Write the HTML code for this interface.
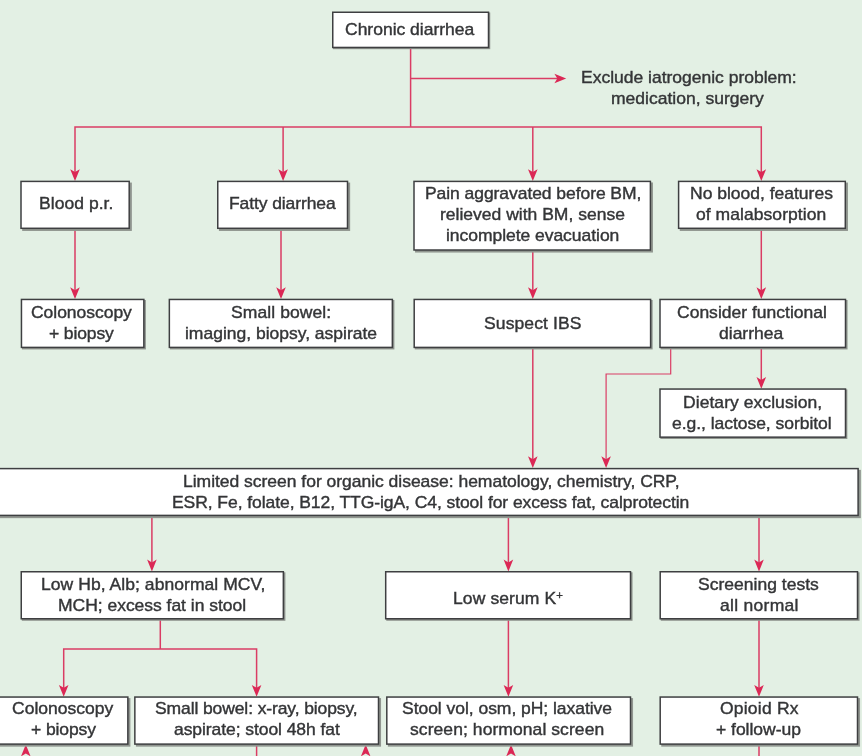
<!DOCTYPE html><html><head><meta charset="utf-8"><style>
html,body{margin:0;padding:0}
body{width:862px;height:756px;overflow:hidden;position:relative;background:#e3f0e4;font-family:"Liberation Sans",sans-serif;}
.t{position:absolute;color:#343537;font-size:17px;line-height:21px;white-space:nowrap;will-change:transform;transform:scaleX(1.03);transform-origin:0 0;-webkit-text-stroke:0.4px #343537;}
sup{font-size:11px;line-height:0;vertical-align:5px}
svg{position:absolute;left:0;top:0}
#w{position:absolute;left:0;top:0;width:862px;height:756px;filter:blur(0.35px)}
</style></head><body><div id="w">
<svg width="862" height="756" viewBox="0 0 862 756"><polyline points="410.6,48 410.6,126.9" fill="none" stroke="#da3c64" stroke-width="1.5"/><polyline points="410.6,78.5 558,78.5" fill="none" stroke="#da3c64" stroke-width="1.5"/><path d="M566.2 78.5 L554.4000000000001 73.7 L557.3000000000001 78.5 L554.4000000000001 83.3 Z" fill="#db2855"/><polyline points="75.0,173.0 75.0,126.9 761.3,126.9 761.3,173.0" fill="none" stroke="#da3c64" stroke-width="1.5"/><polyline points="283.1,126.9 283.1,173.0" fill="none" stroke="#da3c64" stroke-width="1.5"/><polyline points="532.8,126.9 532.8,173.0" fill="none" stroke="#da3c64" stroke-width="1.5"/><path d="M75.0 181.0 L70.2 169.2 L75.0 172.1 L79.8 169.2 Z" fill="#db2855"/><path d="M283.1 181.0 L278.3 169.2 L283.1 172.1 L287.90000000000003 169.2 Z" fill="#db2855"/><path d="M532.8 181.0 L528.0 169.2 L532.8 172.1 L537.5999999999999 169.2 Z" fill="#db2855"/><path d="M761.3 181.0 L756.5 169.2 L761.3 172.1 L766.0999999999999 169.2 Z" fill="#db2855"/><polyline points="75.0,229 75.0,290.7" fill="none" stroke="#da3c64" stroke-width="1.5"/><path d="M75.0 299.1 L70.2 287.3 L75.0 290.2 L79.8 287.3 Z" fill="#db2855"/><polyline points="281.0,229 281.0,290.7" fill="none" stroke="#da3c64" stroke-width="1.5"/><path d="M281.0 299.1 L276.2 287.3 L281.0 290.2 L285.8 287.3 Z" fill="#db2855"/><polyline points="532.8,251 532.8,290.7" fill="none" stroke="#da3c64" stroke-width="1.5"/><path d="M532.8 299.1 L528.0 287.3 L532.8 290.2 L537.5999999999999 287.3 Z" fill="#db2855"/><polyline points="761.3,229 761.3,290.7" fill="none" stroke="#da3c64" stroke-width="1.5"/><path d="M761.3 299.1 L756.5 287.3 L761.3 290.2 L766.0999999999999 287.3 Z" fill="#db2855"/><polyline points="532.8,348 532.8,459.7" fill="none" stroke="#da3c64" stroke-width="1.5"/><path d="M532.8 468.1 L528.0 456.3 L532.8 459.2 L537.5999999999999 456.3 Z" fill="#db2855"/><polyline points="670.7,348 670.7,374.0 606.1,374.0 606.1,460.1" fill="none" stroke="#da3c64" stroke-width="1.2"/><path d="M606.1 468.1 L601.3000000000001 456.3 L606.1 459.2 L610.9 456.3 Z" fill="#db2855"/><polyline points="761.3,348 761.3,380.4" fill="none" stroke="#da3c64" stroke-width="1.5"/><path d="M761.3 388.8 L756.5 377.0 L761.3 379.9 L766.0999999999999 377.0 Z" fill="#db2855"/><polyline points="151.9,516 151.9,563.0" fill="none" stroke="#da3c64" stroke-width="1.5"/><path d="M151.9 571.4 L147.1 559.6 L151.9 562.5 L156.70000000000002 559.6 Z" fill="#db2855"/><polyline points="508.4,516 508.4,563.0" fill="none" stroke="#da3c64" stroke-width="1.5"/><path d="M508.4 571.4 L503.59999999999997 559.6 L508.4 562.5 L513.1999999999999 559.6 Z" fill="#db2855"/><polyline points="759.0,516 759.0,563.0" fill="none" stroke="#da3c64" stroke-width="1.5"/><path d="M759.0 571.4 L754.2 559.6 L759.0 562.5 L763.8 559.6 Z" fill="#db2855"/><polyline points="160.3,619.5 160.3,649.0" fill="none" stroke="#da3c64" stroke-width="1.5"/><polyline points="63.7,688.7 63.7,649.0 256.6,649.0 256.6,688.7" fill="none" stroke="#da3c64" stroke-width="1.5"/><path d="M63.7 696.7 L58.900000000000006 684.9000000000001 L63.7 687.8000000000001 L68.5 684.9000000000001 Z" fill="#db2855"/><path d="M256.6 696.7 L251.8 684.9000000000001 L256.6 687.8000000000001 L261.40000000000003 684.9000000000001 Z" fill="#db2855"/><polyline points="508.4,619.5 508.4,688.3000000000001" fill="none" stroke="#da3c64" stroke-width="1.5"/><path d="M508.4 696.7 L503.59999999999997 684.9000000000001 L508.4 687.8000000000001 L513.1999999999999 684.9000000000001 Z" fill="#db2855"/><polyline points="759.0,619.5 759.0,688.3000000000001" fill="none" stroke="#da3c64" stroke-width="1.5"/><path d="M759.0 696.7 L754.2 684.9000000000001 L759.0 687.8000000000001 L763.8 684.9000000000001 Z" fill="#db2855"/><polyline points="256.6,745 256.6,760" fill="none" stroke="#da3c64" stroke-width="1.5"/><polyline points="759.0,745 759.0,760" fill="none" stroke="#da3c64" stroke-width="1.5"/><path d="M25.8 744.6 L21.0 756.4 L25.8 753.5 L30.6 756.4 Z" fill="#db2855"/><path d="M365.7 744.6 L360.9 756.4 L365.7 753.5 L370.5 756.4 Z" fill="#db2855"/><path d="M511 744.6 L506.2 756.4 L511 753.5 L515.8 756.4 Z" fill="#db2855"/><rect x="333.75" y="13.25" width="155.75" height="35.20" fill="#90958f" stroke="#90958f" stroke-width="1.5"/><rect x="22.90" y="183.30" width="108.20" height="46.90" fill="#90958f" stroke="#90958f" stroke-width="1.5"/><rect x="219.65" y="183.30" width="129.75" height="46.90" fill="#90958f" stroke="#90958f" stroke-width="1.5"/><rect x="415.80" y="183.20" width="236.40" height="68.60" fill="#90958f" stroke="#90958f" stroke-width="1.5"/><rect x="680.50" y="183.30" width="166.70" height="46.90" fill="#90958f" stroke="#90958f" stroke-width="1.5"/><rect x="22.75" y="300.75" width="122.40" height="47.95" fill="#90958f" stroke="#90958f" stroke-width="1.5"/><rect x="170.65" y="300.75" width="223.00" height="47.95" fill="#90958f" stroke="#90958f" stroke-width="1.5"/><rect x="415.50" y="300.75" width="236.40" height="47.95" fill="#90958f" stroke="#90958f" stroke-width="1.5"/><rect x="661.30" y="300.75" width="185.50" height="47.95" fill="#90958f" stroke="#90958f" stroke-width="1.5"/><rect x="661.10" y="390.15" width="185.50" height="48.10" fill="#90958f" stroke="#90958f" stroke-width="1.5"/><rect x="-4.00" y="470.60" width="864.10" height="46.80" fill="#90958f" stroke="#90958f" stroke-width="1.5"/><rect x="22.55" y="573.05" width="262.10" height="47.00" fill="#90958f" stroke="#90958f" stroke-width="1.5"/><rect x="387.00" y="573.05" width="244.80" height="47.00" fill="#90958f" stroke="#90958f" stroke-width="1.5"/><rect x="661.50" y="573.05" width="197.30" height="47.00" fill="#90958f" stroke="#90958f" stroke-width="1.5"/><rect x="-4.20" y="698.85" width="133.85" height="47.05" fill="#90958f" stroke="#90958f" stroke-width="1.5"/><rect x="136.65" y="698.85" width="243.65" height="47.05" fill="#90958f" stroke="#90958f" stroke-width="1.5"/><rect x="388.60" y="698.85" width="243.70" height="47.05" fill="#90958f" stroke="#90958f" stroke-width="1.5"/><rect x="662.00" y="698.85" width="197.30" height="47.05" fill="#90958f" stroke="#90958f" stroke-width="1.5"/><rect x="332.75" y="12.25" width="155.75" height="35.20" fill="#fff" stroke="#3e3f41" stroke-width="1.5"/><rect x="21.00" y="181.40" width="108.20" height="46.90" fill="#fff" stroke="#3e3f41" stroke-width="1.5"/><rect x="217.75" y="181.40" width="129.75" height="46.90" fill="#fff" stroke="#3e3f41" stroke-width="1.5"/><rect x="414.00" y="181.40" width="236.40" height="68.60" fill="#fff" stroke="#3e3f41" stroke-width="1.5"/><rect x="678.60" y="181.40" width="166.70" height="46.90" fill="#fff" stroke="#3e3f41" stroke-width="1.5"/><rect x="21.45" y="299.45" width="122.40" height="47.95" fill="#fff" stroke="#3e3f41" stroke-width="1.5"/><rect x="169.35" y="299.45" width="223.00" height="47.95" fill="#fff" stroke="#3e3f41" stroke-width="1.5"/><rect x="414.20" y="299.45" width="236.40" height="47.95" fill="#fff" stroke="#3e3f41" stroke-width="1.5"/><rect x="660.00" y="299.45" width="185.50" height="47.95" fill="#fff" stroke="#3e3f41" stroke-width="1.5"/><rect x="660.00" y="389.05" width="185.50" height="48.10" fill="#fff" stroke="#3e3f41" stroke-width="1.5"/><rect x="-6.00" y="468.60" width="864.10" height="46.80" fill="#fff" stroke="#3e3f41" stroke-width="1.5"/><rect x="21.25" y="571.75" width="262.10" height="47.00" fill="#fff" stroke="#3e3f41" stroke-width="1.5"/><rect x="385.70" y="571.75" width="244.80" height="47.00" fill="#fff" stroke="#3e3f41" stroke-width="1.5"/><rect x="660.20" y="571.75" width="197.30" height="47.00" fill="#fff" stroke="#3e3f41" stroke-width="1.5"/><rect x="-6.00" y="697.05" width="133.85" height="47.05" fill="#fff" stroke="#3e3f41" stroke-width="1.5"/><rect x="134.85" y="697.05" width="243.65" height="47.05" fill="#fff" stroke="#3e3f41" stroke-width="1.5"/><rect x="386.80" y="697.05" width="243.70" height="47.05" fill="#fff" stroke="#3e3f41" stroke-width="1.5"/><rect x="660.20" y="697.05" width="197.30" height="47.05" fill="#fff" stroke="#3e3f41" stroke-width="1.5"/></svg>
<div class="t" style="left:345.30px;top:19.2px;letter-spacing:-0.012px">Chronic diarrhea</div>
<div class="t" style="left:38.70px;top:193.2px;letter-spacing:0.040px">Blood p.r.</div>
<div class="t" style="left:228.90px;top:193.2px;letter-spacing:-0.097px">Fatty diarrhea</div>
<div class="t" style="left:425.10px;top:183.2px;letter-spacing:-0.065px">Pain aggravated before BM,</div>
<div class="t" style="left:439.50px;top:204.2px;letter-spacing:0.000px">relieved with BM, sense</div>
<div class="t" style="left:445.50px;top:225.2px;letter-spacing:-0.045px">incomplete evacuation</div>
<div class="t" style="left:690.10px;top:183.2px;letter-spacing:-0.011px">No blood, features</div>
<div class="t" style="left:695.50px;top:204.2px;letter-spacing:0.048px">of malabsorption</div>
<div class="t" style="left:30.50px;top:302.2px;letter-spacing:-0.036px">Colonoscopy</div>
<div class="t" style="left:48.50px;top:323.2px;letter-spacing:-0.129px">+ biopsy</div>
<div class="t" style="left:231.00px;top:302.2px;letter-spacing:0.082px">Small bowel:</div>
<div class="t" style="left:185.10px;top:323.2px;letter-spacing:-0.015px">imaging, biopsy, aspirate</div>
<div class="t" style="left:483.50px;top:313.2px;letter-spacing:0.108px">Suspect IBS</div>
<div class="t" style="left:677.00px;top:302.2px;letter-spacing:0.000px">Consider functional</div>
<div class="t" style="left:718.50px;top:323.2px;letter-spacing:0.000px">diarrhea</div>
<div class="t" style="left:683.00px;top:392.2px;letter-spacing:0.053px">Dietary exclusion,</div>
<div class="t" style="left:672.00px;top:413.2px;letter-spacing:-0.041px">e.g., lactose, sorbitol</div>
<div class="t" style="left:182.50px;top:471.2px;letter-spacing:-0.026px">Limited screen for organic disease: hematology, chemistry, CRP,</div>
<div class="t" style="left:171.50px;top:492.2px;letter-spacing:-0.071px">ESR, Fe, folate, B12, TTG-igA, C4, stool for excess fat, calprotectin</div>
<div class="t" style="left:40.70px;top:574.2px;letter-spacing:0.050px">Low Hb, Alb; abnormal MCV,</div>
<div class="t" style="left:58.10px;top:595.2px;letter-spacing:-0.031px">MCH; excess fat in stool</div>
<div class="t" style="left:452.60px;top:588.2px;letter-spacing:0.098px">Low serum K<sup>+</sup></div>
<div class="t" style="left:697.50px;top:574.2px;letter-spacing:0.013px">Screening tests</div>
<div class="t" style="left:719.70px;top:595.2px;letter-spacing:0.280px">all normal</div>
<div class="t" style="left:12.00px;top:698.2px;letter-spacing:0.000px">Colonoscopy</div>
<div class="t" style="left:30.60px;top:719.2px;letter-spacing:-0.103px">+ biopsy</div>
<div class="t" style="left:155.00px;top:698.2px;letter-spacing:-0.111px">Small bowel: x-ray, biopsy,</div>
<div class="t" style="left:173.60px;top:719.2px;letter-spacing:-0.074px">aspirate; stool 48h fat</div>
<div class="t" style="left:402.00px;top:698.2px;letter-spacing:-0.040px">Stool vol, osm, pH; laxative</div>
<div class="t" style="left:410.40px;top:719.2px;letter-spacing:0.065px">screen; hormonal screen</div>
<div class="t" style="left:719.70px;top:698.2px;letter-spacing:0.202px">Opioid Rx</div>
<div class="t" style="left:716.20px;top:719.2px;letter-spacing:-0.018px">+ follow-up</div>
<div class="t" style="left:580.80px;top:67.2px;letter-spacing:-0.014px">Exclude iatrogenic problem:</div>
<div class="t" style="left:610.50px;top:88.2px;letter-spacing:0.000px">medication, surgery</div>
</div></body></html>
